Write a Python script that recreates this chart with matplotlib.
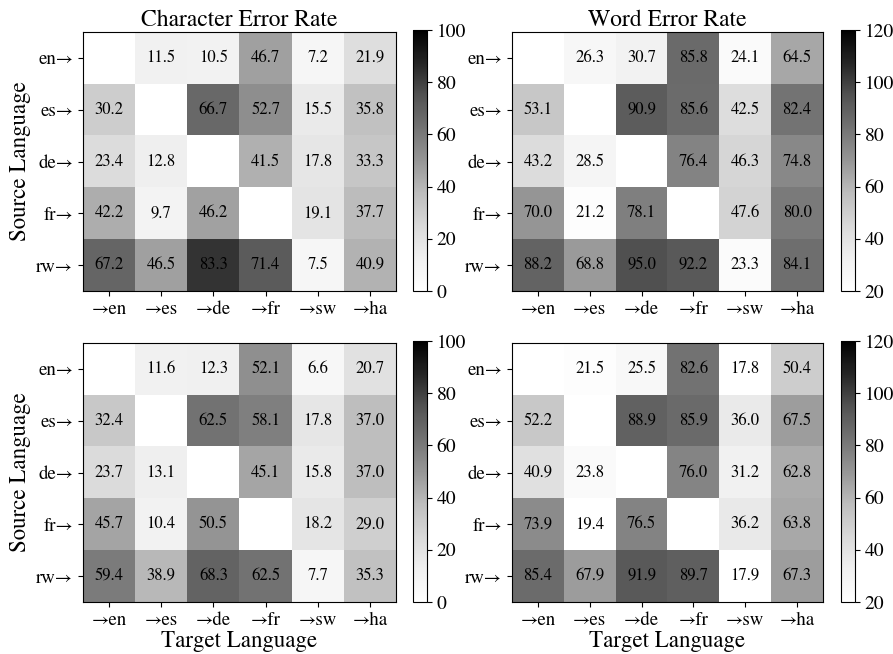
import numpy as np
import matplotlib
matplotlib.use('Agg')
import matplotlib.pyplot as plt

# STIX ships with matplotlib and is Times-like, with a full-size arrow
plt.rcParams['font.family'] = ['STIXGeneral', 'Liberation Serif', 'DejaVu Serif']
plt.rcParams['mathtext.fontset'] = 'stix'

nan = np.nan
src_labels = ['en→', 'es→', 'de→', 'fr→', 'rw→']
tgt_labels = ['→en', '→es', '→de', '→fr', '→sw', '→ha']

cer_top = [
    [nan, 11.5, 10.5, 46.7, 7.2, 21.9],
    [30.2, nan, 66.7, 52.7, 15.5, 35.8],
    [23.4, 12.8, nan, 41.5, 17.8, 33.3],
    [42.2, 9.7, 46.2, nan, 19.1, 37.7],
    [67.2, 46.5, 83.3, 71.4, 7.5, 40.9],
]
wer_top = [
    [nan, 26.3, 30.7, 85.8, 24.1, 64.5],
    [53.1, nan, 90.9, 85.6, 42.5, 82.4],
    [43.2, 28.5, nan, 76.4, 46.3, 74.8],
    [70.0, 21.2, 78.1, nan, 47.6, 80.0],
    [88.2, 68.8, 95.0, 92.2, 23.3, 84.1],
]
cer_bottom = [
    [nan, 11.6, 12.3, 52.1, 6.6, 20.7],
    [32.4, nan, 62.5, 58.1, 17.8, 37.0],
    [23.7, 13.1, nan, 45.1, 15.8, 37.0],
    [45.7, 10.4, 50.5, nan, 18.2, 29.0],
    [59.4, 38.9, 68.3, 62.5, 7.7, 35.3],
]
wer_bottom = [
    [nan, 21.5, 25.5, 82.6, 17.8, 50.4],
    [52.2, nan, 88.9, 85.9, 36.0, 67.5],
    [40.9, 23.8, nan, 76.0, 31.2, 62.8],
    [73.9, 19.4, 76.5, nan, 36.2, 63.8],
    [85.4, 67.9, 91.9, 89.7, 17.9, 67.3],
]

W, H = 893, 654
fig = plt.figure(figsize=(W / 100, H / 100), dpi=100)


def px_rect(l, t, r, b):
    return [l / W, 1 - b / H, (r - l) / W, (b - t) / H]


def heatmap(data, ax_box, cb_box, vmin, vmax, ticks, title=None,
            ylabel=False, xlabel=False):
    data = np.array(data, dtype=float)
    ax = fig.add_axes(px_rect(*ax_box))
    cax = fig.add_axes(px_rect(*cb_box))
    im = ax.imshow(data, cmap='Greys', vmin=vmin, vmax=vmax, aspect='auto')
    for i in range(data.shape[0]):
        for j in range(data.shape[1]):
            if not np.isnan(data[i, j]):
                ax.text(j, i, f"{data[i, j]:.1f}", ha='center', va='center',
                        fontsize=12, color='black')
    ax.set_xticks(range(len(tgt_labels)))
    ax.set_xticklabels(tgt_labels, fontsize=13.5)
    ax.set_yticks(range(len(src_labels)))
    ax.set_yticklabels(src_labels, fontsize=13.5)
    if title:
        ax.set_title(title, fontsize=17, pad=4)
    if ylabel:
        ax.set_ylabel('Source Language', fontsize=16.5)
    if xlabel:
        ax.set_xlabel('Target Language', fontsize=16.5, labelpad=1)
    cb = fig.colorbar(im, cax=cax, ticks=ticks)
    cb.ax.tick_params(labelsize=14)
    return ax


heatmap(cer_top, (83, 32, 396, 291), (413, 30, 427, 291), 0, 100,
        range(0, 101, 20), title='Character Error Rate', ylabel=True)
heatmap(wer_top, (512, 32, 823, 291), (841, 30, 855, 291), 20, 120,
        range(20, 121, 20), title='Word Error Rate')
heatmap(cer_bottom, (83, 343, 396, 602), (413, 341, 427, 602), 0, 100,
        range(0, 101, 20), ylabel=True, xlabel=True)
heatmap(wer_bottom, (512, 343, 823, 602), (841, 341, 855, 602), 20, 120,
        range(20, 121, 20), xlabel=True)

fig.savefig('out.png', dpi=100)
